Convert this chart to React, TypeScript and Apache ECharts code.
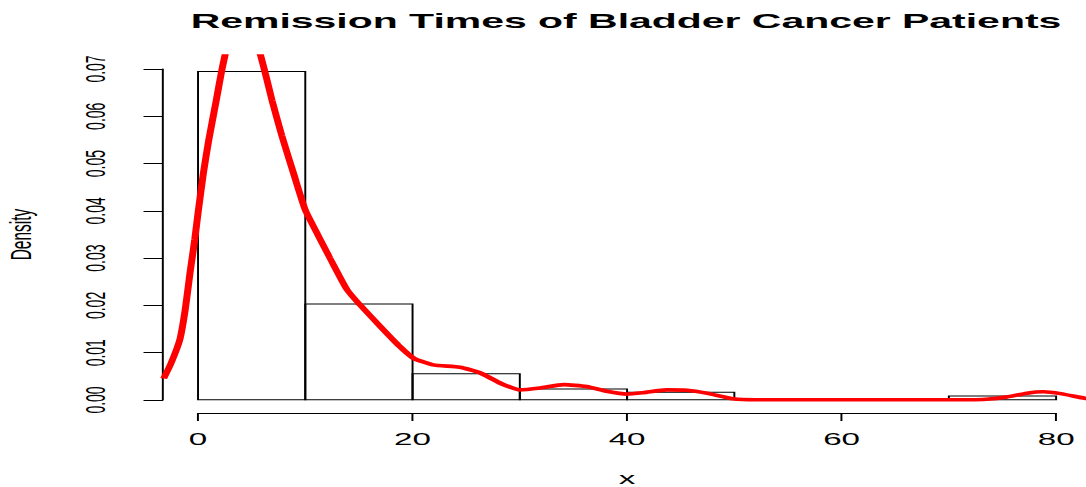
import React, { useEffect, useRef } from "react";
import * as echarts from "echarts";

// ---- data ----
const binStarts = [0, 10, 20, 30, 40, 50, 60, 70];
const binEnds = [10, 20, 30, 40, 50, 60, 70, 80];
const binDensity = [0.0695, 0.0203, 0.0055, 0.0023, 0.0016, 0, 0, 0.0008];

const curveX = [
  -3.2, -2.5, -1.7, -1.2, -0.75, -0.3, 0, 0.5, 1.0, 1.7, 2.2, 2.5, 3.0, 3.5, 4.0, 4.5, 5.0, 5.5, 5.85,
  6.4, 6.9, 7.8, 8.9, 10.0, 11.2, 12.3, 13.9, 15.1, 17.0, 18.8, 20.1, 21.9, 24.4, 26.2, 28.2, 30.0,
  31.9, 34.1, 36.2, 38.1, 40.0, 41.5, 43.7, 45.6, 47.4, 49.9, 52, 56, 60, 64, 68, 72, 73.5, 75.4,
  77.3, 78.8, 80.4, 82.7, 83.5,
];
const curveY = [
  0.0045, 0.0078, 0.0127, 0.019, 0.0268, 0.034, 0.0395, 0.048, 0.055, 0.0634, 0.0696, 0.0728, 0.078,
  0.0818, 0.0835, 0.0825, 0.0795, 0.0755, 0.0728, 0.068, 0.0634, 0.056, 0.048, 0.0402, 0.0348, 0.030,
  0.0233, 0.0201, 0.0155, 0.0113, 0.0088, 0.0074, 0.0069, 0.0058, 0.0035, 0.0021, 0.0025, 0.0032,
  0.0028, 0.0018, 0.0012, 0.0015, 0.0021, 0.002, 0.0014, 0.0002, 0, 0, 0, 0, 0, 0, 0.0001, 0.0006,
  0.0014, 0.0017, 0.0013, 0.0003, 0.0001,
];

const titleText = "Remission Times of Bladder Cancer Patients";
const xName = "x";
const yName = "Density";

// ---- layout (reference is horizontally stretched) ----
const S = 1.95;
const W = 1086 / S;
const H = 487;
const FONT = "'Liberation Sans', Arial, Helvetica, sans-serif";

export default function App() {
  const ref = useRef<HTMLDivElement>(null);
  useEffect(() => {
    if (!ref.current) return;
    const chart = echarts.init(ref.current, undefined, { renderer: "svg" });
    const bars = binStarts.map((s, i) => [s, binEnds[i], binDensity[i]]);
    const curve = curveX.map((x, i) => [x, curveY[i]]);
    const axisColor = "#000";
    chart.setOption({
      animation: false,
      backgroundColor: "#fff",
      textStyle: { fontFamily: FONT },
      graphic: [
        {
          type: "text",
          x: 626 / S,
          y: 21,
          style: {
            text: titleText,
            font: `bold 21px ${FONT}`,
            fill: "#000",
            align: "center",
            verticalAlign: "middle",
          },
        },
      ],
      grid: [
        {
          left: 198 / S,
          right: 30 / S,
          top: 69,
          bottom: 87,
          containLabel: false,
          outerBoundsMode: "none",
        },
        {
          left: 163.7 / S,
          right: (1086 - 1090.3) / S,
          top: 56,
          bottom: 74,
          containLabel: false,
          outerBoundsMode: "none",
        },
      ],
      xAxis: [
        {
          gridIndex: 0,
          type: "value",
          min: 0,
          max: 80,
          interval: 20,
          position: "bottom",
          offset: 13,
          axisLine: { show: true, onZero: false, lineStyle: { color: axisColor, width: 1 } },
          axisTick: { show: true, length: 8, lineStyle: { color: axisColor, width: 1 } },
          axisLabel: { show: true, fontSize: 17, color: "#000", margin: 18, fontFamily: FONT },
          splitLine: { show: false },
          name: xName,
          nameLocation: "middle",
          nameGap: 57,
          nameTextStyle: { fontSize: 17, color: "#000", fontFamily: FONT },
        },
        { gridIndex: 1, type: "value", min: -3.2, max: 83.2, show: false },
      ],
      yAxis: [
        {
          gridIndex: 0,
          type: "value",
          min: 0,
          max: 0.07,
          interval: 0.01,
          position: "left",
          offset: 35 / S,
          axisLine: { show: true, onZero: false, lineStyle: { color: axisColor, width: 1 } },
          axisTick: { show: true, length: 10, lineStyle: { color: axisColor, width: 1 } },
          axisLabel: {
            show: true,
            rotate: 90,
            fontSize: 14,
            color: "#000",
            margin: 26 / S + 14,
            fontFamily: FONT,
            formatter: (v: number) => v.toFixed(2),
          },
          splitLine: { show: false },
          name: yName,
          nameLocation: "middle",
          nameRotate: 90,
          nameGap: 65,
          nameTextStyle: { fontSize: 15.5, color: "#000", fontFamily: FONT },
        },
        { gridIndex: 1, type: "value", min: -0.0028, max: 0.0728, show: false },
      ],
      series: [
        {
          type: "custom",
          xAxisIndex: 1,
          yAxisIndex: 1,
          clip: true,
          data: bars,
          renderItem: (params: any, api: any) => {
            const p0 = api.coord([api.value(0), api.value(2)]);
            const p1 = api.coord([api.value(1), 0]);
            return {
              type: "rect",
              shape: { x: p0[0], y: p0[1], width: p1[0] - p0[0], height: p1[1] - p0[1] },
              style: { fill: "none", stroke: "#000", lineWidth: 1 },
            };
          },
          z: 1,
        },
        {
          type: "line",
          xAxisIndex: 1,
          yAxisIndex: 1,
          data: curve,
          clip: true,
          smooth: 0.2,
          symbol: "none",
          lineStyle: { color: "#ff0000", width: 3.6 },
          z: 2,
        },
      ],
    });
    return () => chart.dispose();
  }, []);
  return (
    <div
      ref={ref}
      style={{
        position: "absolute",
        left: 0,
        top: 0,
        width: W,
        height: H,
        transform: `scaleX(${S})`,
        transformOrigin: "0 0",
      }}
    />
  );
}
